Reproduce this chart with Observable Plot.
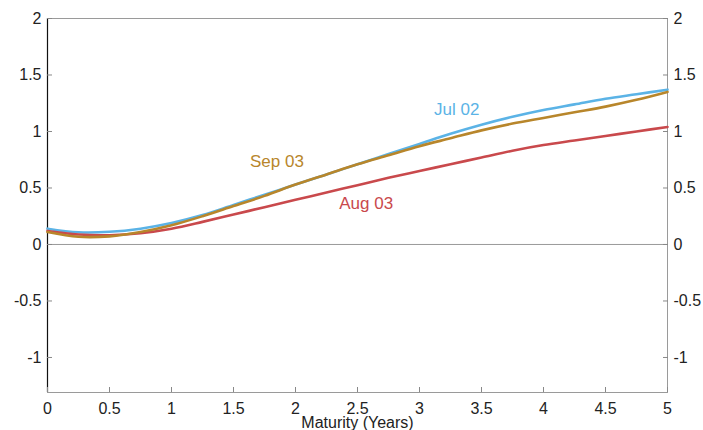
<!DOCTYPE html>
<html>
<head>
<meta charset="utf-8">
<script src="https://cdn.jsdelivr.net/npm/d3@7"></script>
<script src="https://cdn.jsdelivr.net/npm/@observablehq/plot@0.6"></script>
<style>
  html, body { margin: 0; padding: 0; background: #fff; }
  svg { display: block; }
</style>
</head>
<body>
<div id="chart"></div>
<script>
const maturity = [0, 0.25, 0.5, 0.75, 1, 1.25, 1.5, 1.75, 2, 2.25, 2.5, 2.75, 3, 3.25, 3.5, 3.75, 4, 4.25, 4.5, 4.75, 5];
const jul02 = [0.14, 0.108, 0.112, 0.14, 0.19, 0.26, 0.35, 0.44, 0.53, 0.62, 0.71, 0.80, 0.89, 0.98, 1.06, 1.13, 1.19, 1.24, 1.29, 1.33, 1.37];
const aug03 = [0.12, 0.088, 0.082, 0.10, 0.14, 0.20, 0.265, 0.33, 0.395, 0.46, 0.525, 0.59, 0.65, 0.71, 0.77, 0.83, 0.88, 0.92, 0.96, 1.00, 1.04];
const sep03 = [0.11, 0.068, 0.072, 0.11, 0.17, 0.25, 0.34, 0.43, 0.53, 0.62, 0.71, 0.79, 0.87, 0.94, 1.01, 1.07, 1.12, 1.17, 1.22, 1.28, 1.35];
const seriesNames = ["Jul 02", "Aug 03", "Sep 03"];
const seriesColors = ["#5bb3e6", "#c9494c", "#b8862b"];
const labelX = [3.3, 2.57, 1.85];
const labelY = [1.19, 0.36, 0.73];
const xTicks = [0, 0.5, 1, 1.5, 2, 2.5, 3, 3.5, 4, 4.5, 5];
const yTicks = [-1, -0.5, 0, 0.5, 1, 1.5, 2];

const seriesValues = [jul02, aug03, sep03];
const rows = [];
seriesNames.forEach((name, i) => {
  maturity.forEach((m, j) => rows.push({series: name, x: m, y: seriesValues[i][j]}));
});
const labels = seriesNames.map((name, i) => ({series: name, x: labelX[i], y: labelY[i]}));
const colorOf = Object.fromEntries(seriesNames.map((n, i) => [n, seriesColors[i]]));
const fmt = d => String(d);

const chart = Plot.plot({
  width: 703,
  height: 430,
  marginLeft: 47,
  marginRight: 36,
  marginTop: 18,
  marginBottom: 38,
  style: {fontFamily: "'Liberation Sans', Arial, sans-serif", fontSize: "16px", color: "#222", background: "#fff"},
  x: {domain: [0, 5]},
  y: {domain: [-1.31, 2]},
  marks: [
    Plot.ruleY([0], {stroke: "#9a9a9a", strokeWidth: 1}),
    Plot.frame({stroke: "#9a9a9a", strokeWidth: 1}),
    Plot.ruleX([0], {stroke: "#111", strokeWidth: 1.2}),
    Plot.axisY(yTicks, {anchor: "left", tickSize: -5, tickPadding: 11, stroke: "#888", label: null, fill: "#222", tickFormat: fmt}),
    Plot.axisY(yTicks, {anchor: "right", tickSize: -5, tickPadding: 11, stroke: "#888", label: null, fill: "#222", tickFormat: fmt}),
    Plot.axisX(xTicks, {anchor: "bottom", tickSize: -5, tickPadding: 15, stroke: "#888", fill: "#222", tickFormat: fmt,
      label: "Maturity (Years)", labelAnchor: "center", labelArrow: "none", labelOffset: 35}),
    ...seriesNames.map(name => Plot.line(rows.filter(d => d.series === name), {
      x: "x", y: "y", stroke: colorOf[name], strokeWidth: 2.6, curve: "catmull-rom"
    })),
    Plot.text(labels, {x: "x", y: "y", text: "series", fill: d => colorOf[d.series], fontSize: 17})
  ]
});
document.getElementById("chart").append(chart);
</script>
</body>
</html>
